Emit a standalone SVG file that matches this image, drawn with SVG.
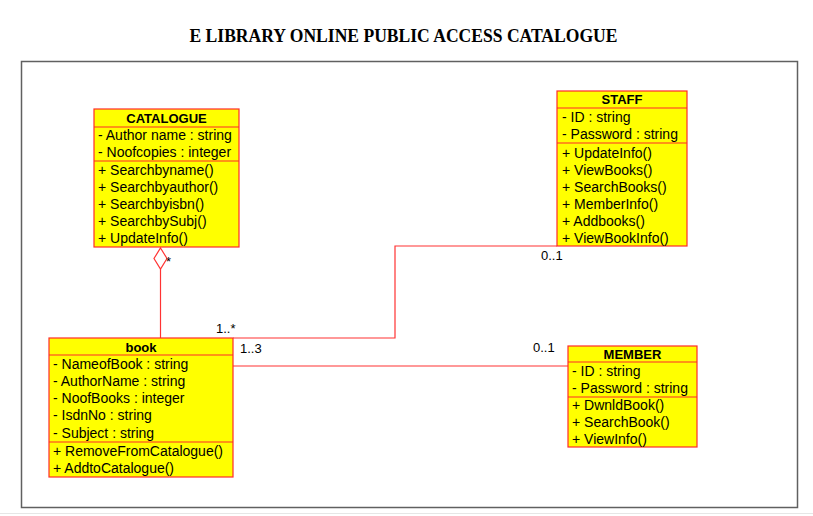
<svg xmlns="http://www.w3.org/2000/svg" width="813" height="516" viewBox="0 0 813 516">
<style>
.box{fill:#ffff00;stroke:#ff2a2a;stroke-width:1.2}
.sep{stroke:#ff2a2a;stroke-width:1.2}
.t{font-family:"Liberation Sans",Arial,sans-serif;font-size:14px;fill:#000}
.h{font-family:"Liberation Sans",Arial,sans-serif;font-size:13px;font-weight:bold;fill:#000;text-anchor:middle}
.lbl{font-family:"Liberation Sans",Arial,sans-serif;font-size:13px;fill:#000}
.conn{fill:none;stroke:#ff3333;stroke-width:1.2}
</style>
<rect width="813" height="516" fill="#ffffff"/>
<rect x="21.5" y="61.5" width="776" height="446" fill="none" stroke="#606060" stroke-width="1.5"/>
<line x1="0" y1="513.5" x2="813" y2="513.5" stroke="#e6e6e6" stroke-width="1"/>
<text x="403.5" y="42" font-family="'Liberation Serif','Times New Roman',serif" font-size="18" font-weight="bold" text-anchor="middle" textLength="428" lengthAdjust="spacingAndGlyphs" fill="#000">E LIBRARY ONLINE PUBLIC ACCESS CATALOGUE</text>

<g id="connectors">
  <polygon class="conn" points="160.5,248 167,258.5 160.5,269 154,258.5" fill="#ffffff"/>
  <line class="conn" x1="160.5" y1="269" x2="160.5" y2="338"/>
  <polyline class="conn" points="233,338 395,338 395,246 557,246"/>
  <line class="conn" x1="233" y1="366" x2="568" y2="366"/>
  <text class="lbl" x="166" y="266">*</text>
  <text class="lbl" x="216" y="333">1..*</text>
  <text class="lbl" x="240" y="353">1..3</text>
  <text class="lbl" x="541" y="260">0..1</text>
  <text class="lbl" x="533" y="352">0..1</text>
</g>

<g id="catalogue">
  <rect class="box" x="94" y="109" width="145" height="138"/>
  <line class="sep" x1="94" y1="127" x2="239" y2="127"/>
  <line class="sep" x1="94" y1="161" x2="239" y2="161"/>
  <text class="h" x="166.5" y="123">CATALOGUE</text>
  <text class="t" x="98" y="140">- Author name : string</text>
  <text class="t" x="98" y="157">- Noofcopies : integer</text>
  <text class="t" x="98" y="175">+ Searchbyname()</text>
  <text class="t" x="98" y="192">+ Searchbyauthor()</text>
  <text class="t" x="98" y="209">+ Searchbyisbn()</text>
  <text class="t" x="98" y="226">+ SearchbySubj()</text>
  <text class="t" x="98" y="243">+ UpdateInfo()</text>
</g>

<g id="book">
  <rect class="box" x="49" y="338" width="184" height="139"/>
  <line class="sep" x1="49" y1="355" x2="233" y2="355"/>
  <line class="sep" x1="49" y1="442" x2="233" y2="442"/>
  <text class="h" x="141" y="352">book</text>
  <text class="t" x="53" y="369">- NameofBook : string</text>
  <text class="t" x="53" y="386">- AuthorName : string</text>
  <text class="t" x="53" y="403">- NoofBooks : integer</text>
  <text class="t" x="53" y="420">- IsdnNo : string</text>
  <text class="t" x="53" y="438">- Subject : string</text>
  <text class="t" x="53" y="456">+ RemoveFromCatalogue()</text>
  <text class="t" x="53" y="473">+ AddtoCatalogue()</text>
</g>

<g id="staff">
  <rect class="box" x="557" y="91" width="130" height="155"/>
  <line class="sep" x1="557" y1="108" x2="687" y2="108"/>
  <line class="sep" x1="557" y1="143" x2="687" y2="143"/>
  <text class="h" x="622" y="104">STAFF</text>
  <text class="t" x="562" y="122">- ID : string</text>
  <text class="t" x="562" y="139">- Password : string</text>
  <text class="t" x="562" y="158">+ UpdateInfo()</text>
  <text class="t" x="562" y="175">+ ViewBooks()</text>
  <text class="t" x="562" y="192">+ SearchBooks()</text>
  <text class="t" x="562" y="209">+ MemberInfo()</text>
  <text class="t" x="562" y="226">+ Addbooks()</text>
  <text class="t" x="562" y="243">+ ViewBookInfo()</text>
</g>

<g id="member">
  <rect class="box" x="568" y="346" width="129" height="101"/>
  <line class="sep" x1="568" y1="362" x2="697" y2="362"/>
  <line class="sep" x1="568" y1="397" x2="697" y2="397"/>
  <text class="h" x="632.5" y="359">MEMBER</text>
  <text class="t" x="572" y="376">- ID : string</text>
  <text class="t" x="572" y="393">- Password : string</text>
  <text class="t" x="572" y="410">+ DwnldBook()</text>
  <text class="t" x="572" y="427">+ SearchBook()</text>
  <text class="t" x="572" y="444">+ ViewInfo()</text>
</g>
</svg>
